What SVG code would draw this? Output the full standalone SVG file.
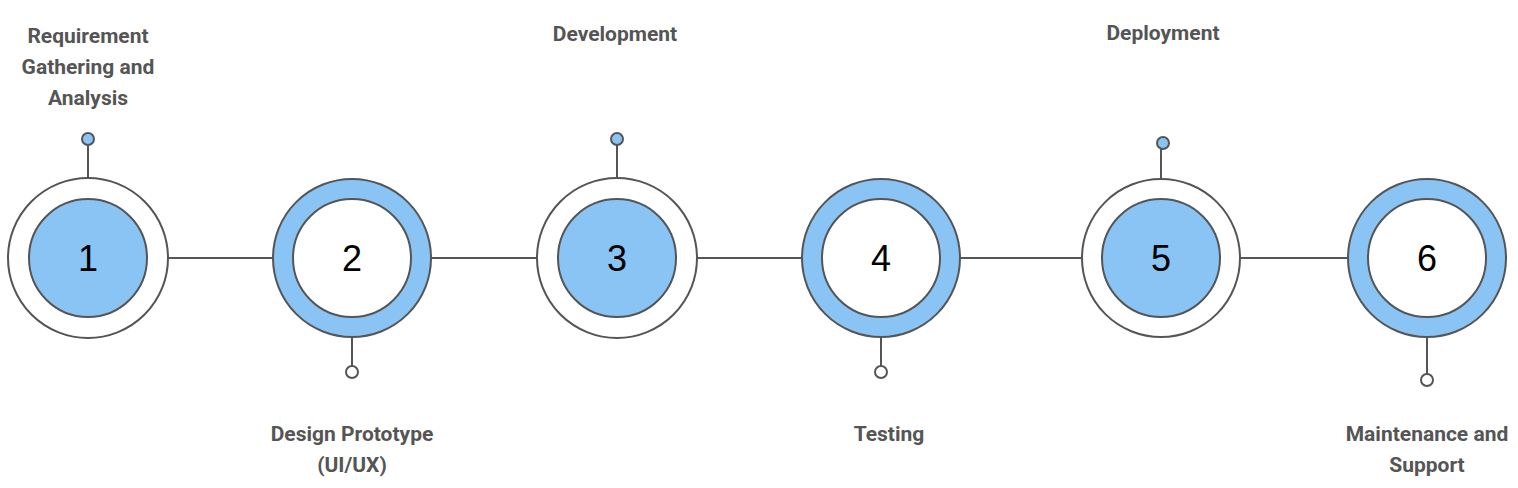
<svg xmlns="http://www.w3.org/2000/svg" width="1518" height="488" viewBox="0 0 1518 488">
<style>
.ln{stroke:#555;stroke-width:2;fill:none}
.o{stroke:#555;stroke-width:2}
.lb{font-family:Roboto,"Liberation Sans",sans-serif;font-weight:700;font-size:21px;fill:#555;text-anchor:middle}
.n{font-family:"Liberation Sans",Arial,sans-serif;font-size:36px;fill:#000;text-anchor:middle}
</style>
<rect width="1518" height="488" fill="#fff"/>
<g id="connectors">
<line class="ln" x1="168" y1="258" x2="273" y2="258"/>
<line class="ln" x1="431" y1="258" x2="538" y2="258"/>
<line class="ln" x1="697" y1="258" x2="802" y2="258"/>
<line class="ln" x1="960" y1="258" x2="1082" y2="258"/>
<line class="ln" x1="1240" y1="258" x2="1348" y2="258"/>
<line class="ln" x1="88" y1="178" x2="88" y2="145"/>
<line class="ln" x1="352" y1="338" x2="352" y2="366"/>
<line class="ln" x1="617" y1="178" x2="617" y2="145"/>
<line class="ln" x1="881" y1="338" x2="881" y2="366"/>
<line class="ln" x1="1161" y1="178" x2="1161" y2="149"/>
<line class="ln" x1="1427" y1="338" x2="1427" y2="374"/>
</g>
<g id="n1"><circle class="o" cx="88" cy="258" r="80" fill="#fff"/><circle class="o" cx="88" cy="258" r="59" fill="#89c4f4"/><text class="n" x="88" y="271">1</text><circle class="o" cx="88" cy="139" r="6" fill="#89c4f4"/>
<text class="lb" x="88" y="43">Requirement</text><text class="lb" x="88" y="74">Gathering and</text><text class="lb" x="88" y="105">Analysis</text></g>
<g id="n2"><circle class="o" cx="352" cy="258" r="79" fill="#89c4f4"/><circle class="o" cx="352" cy="258" r="59" fill="#fff"/><text class="n" x="352" y="271">2</text><circle class="o" cx="352" cy="372" r="6" fill="#fff"/>
<text class="lb" x="352" y="441">Design Prototype</text><text class="lb" x="352" y="472">(UI/UX)</text></g>
<g id="n3"><circle class="o" cx="617" cy="258" r="80" fill="#fff"/><circle class="o" cx="617" cy="258" r="59" fill="#89c4f4"/><text class="n" x="617" y="271">3</text><circle class="o" cx="617" cy="139" r="6" fill="#89c4f4"/>
<text class="lb" x="615" y="41">Development</text></g>
<g id="n4"><circle class="o" cx="881" cy="258" r="79" fill="#89c4f4"/><circle class="o" cx="881" cy="258" r="59" fill="#fff"/><text class="n" x="881" y="271">4</text><circle class="o" cx="881" cy="372" r="6" fill="#fff"/>
<text class="lb" x="889" y="441">Testing</text></g>
<g id="n5"><circle class="o" cx="1161" cy="258" r="79" fill="#fff"/><circle class="o" cx="1161" cy="258" r="59" fill="#89c4f4"/><text class="n" x="1161" y="271">5</text><circle class="o" cx="1163" cy="143" r="6" fill="#89c4f4"/>
<text class="lb" x="1163" y="40">Deployment</text></g>
<g id="n6"><circle class="o" cx="1427" cy="258" r="79" fill="#89c4f4"/><circle class="o" cx="1427" cy="258" r="59" fill="#fff"/><text class="n" x="1427" y="271">6</text><circle class="o" cx="1427" cy="380" r="6" fill="#fff"/>
<text class="lb" x="1427" y="441">Maintenance and</text><text class="lb" x="1427" y="472">Support</text></g>
</svg>
